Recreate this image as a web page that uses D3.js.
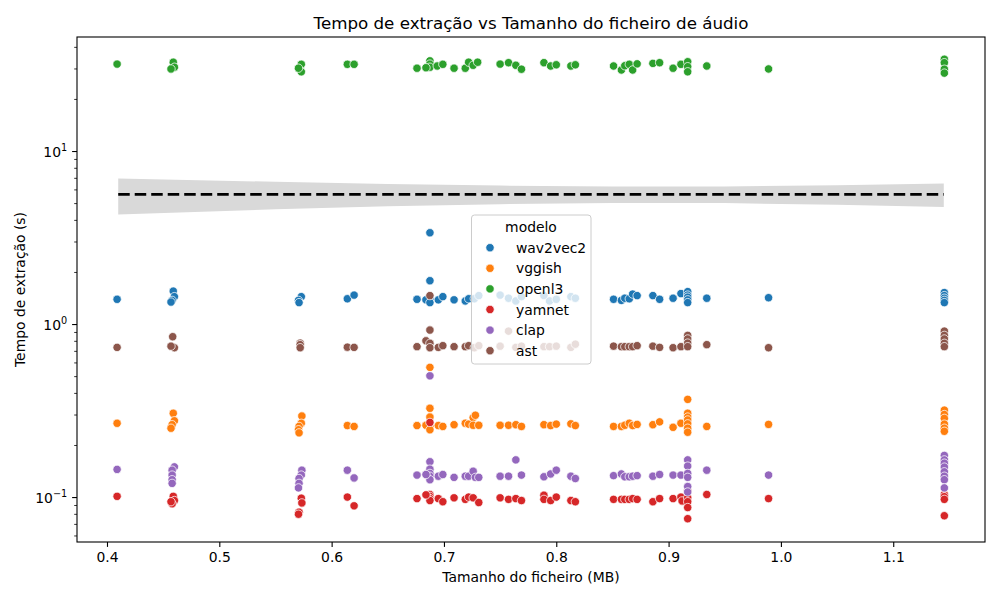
<!DOCTYPE html>
<html>
<head>
<meta charset="utf-8">
<script src="https://cdn.jsdelivr.net/npm/d3@7/dist/d3.min.js"></script>
<style>
	body { margin: 0; background: #fff; }
	text { font-family: "DejaVu Sans", sans-serif; fill: #000; }
</style>
</head>
<body>
<script>

	// models (hue) and their tab10 colours
	var models = ["wav2vec2", "vggish", "openl3", "yamnet", "clap", "ast"];
	var colors = ["#1f77b4", "#ff7f0e", "#2ca02c", "#d62728", "#9467bd", "#8c564b"];

	// [file size (MB), extraction time (s)]
	var wav2vec2 = [
		[0.409,1.39],[0.459,1.55],[0.460,1.44],[0.458,1.37],[0.457,1.34],
		[0.573,1.44],[0.5705,1.37],[0.571,1.33],
		[0.614,1.40],[0.620,1.47],[0.676,1.39],
		[0.6875,3.37],[0.6875,1.78],[0.6875,1.39],[0.684,1.38],[0.6875,1.33],
		[0.695,1.38],[0.699,1.44],[0.709,1.38],[0.719,1.36],[0.722,1.40],[0.727,1.40],[0.731,1.46],
		[0.750,1.47],[0.7575,1.41],[0.764,1.36],[0.769,1.44],
		[0.789,1.46],[0.794,1.36],[0.800,1.39],[0.813,1.44],[0.817,1.41],
		[0.851,1.39],[0.858,1.37],[0.861,1.41],[0.865,1.40],[0.868,1.49],[0.872,1.46],
		[0.886,1.46],[0.892,1.39],[0.904,1.41],[0.911,1.50],
		[0.917,1.54],[0.917,1.47],[0.917,1.43],[0.917,1.38],[0.917,1.33],
		[0.934,1.41],[0.989,1.42],
		[1.1455,1.52],[1.1455,1.46],[1.1455,1.41],[1.1455,1.37],[1.1455,1.33]
	];
	var vggish = [
		[0.409,0.267],[0.459,0.305],[0.460,0.276],[0.458,0.262],[0.457,0.25],
		[0.5735,0.294],[0.573,0.267],[0.571,0.256],[0.5705,0.245],[0.571,0.235],
		[0.614,0.259],[0.620,0.256],[0.676,0.259],
		[0.6875,0.562],[0.6875,0.326],[0.6875,0.29],[0.6875,0.256],[0.684,0.26],[0.6875,0.245],
		[0.695,0.259],[0.699,0.256],[0.709,0.262],[0.719,0.267],[0.722,0.264],[0.726,0.288],[0.728,0.297],[0.726,0.26],[0.731,0.26],
		[0.750,0.26],[0.7575,0.26],[0.764,0.262],[0.769,0.256],
		[0.789,0.262],[0.795,0.259],[0.800,0.264],[0.813,0.265],[0.817,0.259],
		[0.851,0.256],[0.858,0.256],[0.861,0.26],[0.865,0.267],[0.868,0.259],[0.872,0.263],
		[0.886,0.262],[0.892,0.272],[0.904,0.253],[0.911,0.267],
		[0.917,0.367],[0.917,0.305],[0.917,0.29],[0.917,0.279],[0.917,0.265],[0.917,0.25],[0.917,0.237],
		[0.934,0.256],[0.989,0.263],
		[1.1455,0.318],[1.1455,0.30],[1.1455,0.285],[1.1455,0.264],[1.1455,0.25],[1.1455,0.24]
	];
	var openl3 = [
		[0.409,31.8],[0.459,32.6],[0.460,30.5],[0.457,29.8],
		[0.573,31.7],[0.573,28.7],[0.5705,30.1],
		[0.614,31.7],[0.620,31.7],[0.676,30.1],
		[0.6875,33.2],[0.6875,31.8],[0.6875,30.5],[0.684,30.3],
		[0.694,31.0],[0.699,31.7],[0.709,30.1],[0.719,30.1],[0.722,32.6],[0.726,31.3],[0.730,32.6],
		[0.750,31.8],[0.7575,32.4],[0.764,31.3],[0.769,29.7],
		[0.789,32.4],[0.795,31.0],[0.800,31.5],[0.813,31.0],[0.817,31.5],
		[0.851,31.0],[0.858,29.4],[0.861,31.1],[0.865,31.7],[0.868,29.4],[0.872,31.9],
		[0.886,32.1],[0.892,32.4],[0.904,30.1],[0.911,31.7],
		[0.917,32.8],[0.917,30.7],[0.917,28.7],
		[0.934,31.0],[0.989,29.8],
		[1.1455,33.9],[1.1455,32.4],[1.1455,29.7],[1.1455,28.2]
	];
	var yamnet = [
		[0.409,0.101],[0.459,0.101],[0.460,0.0955],[0.458,0.0915],[0.457,0.094],
		[0.573,0.0985],[0.5735,0.0925],[0.571,0.0818],[0.5705,0.0796],
		[0.614,0.100],[0.620,0.089],[0.676,0.098],
		[0.6875,0.27],[0.6875,0.1035],[0.6875,0.101],[0.6875,0.098],[0.6875,0.0955],[0.684,0.103],
		[0.695,0.098],[0.699,0.094],[0.709,0.099],[0.719,0.097],[0.722,0.100],[0.726,0.099],[0.731,0.093],
		[0.750,0.099],[0.7575,0.097],[0.764,0.098],[0.769,0.0955],
		[0.789,0.1025],[0.789,0.097],[0.795,0.0955],[0.800,0.100],[0.813,0.0955],[0.817,0.094],
		[0.851,0.097],[0.858,0.097],[0.861,0.097],[0.865,0.097],[0.868,0.098],[0.872,0.097],
		[0.886,0.094],[0.892,0.098],[0.904,0.098],[0.911,0.100],[0.912,0.095],
		[0.917,0.1085],[0.917,0.099],[0.917,0.094],[0.917,0.087],[0.917,0.075],
		[0.934,0.1035],[0.989,0.098],
		[1.1455,0.1035],[1.1455,0.1005],[1.1455,0.097],[1.1455,0.078]
	];
	var clap = [
		[0.409,0.1445],[0.460,0.1495],[0.458,0.143],[0.458,0.134],[0.458,0.126],[0.458,0.120],
		[0.5735,0.143],[0.573,0.134],[0.571,0.128],[0.571,0.120],[0.5705,0.113],
		[0.614,0.143],[0.620,0.129],[0.676,0.134],
		[0.6875,0.502],[0.6875,0.16],[0.6875,0.145],[0.6875,0.137],[0.6875,0.132],[0.6875,0.126],[0.684,0.135],
		[0.695,0.132],[0.699,0.135],[0.709,0.130],[0.719,0.132],[0.722,0.132],[0.726,0.141],[0.728,0.13],[0.731,0.13],
		[0.750,0.132],[0.7575,0.132],[0.764,0.164],[0.769,0.134],
		[0.789,0.131],[0.795,0.136],[0.800,0.143],[0.813,0.132],[0.817,0.128],
		[0.851,0.133],[0.858,0.136],[0.861,0.131],[0.865,0.131],[0.868,0.132],[0.872,0.133],
		[0.886,0.132],[0.892,0.135],[0.904,0.134],[0.911,0.134],
		[0.917,0.164],[0.917,0.151],[0.917,0.137],[0.917,0.130],[0.917,0.115],[0.917,0.107],
		[0.934,0.143],[0.989,0.134],
		[1.1455,0.174],[1.1455,0.164],[1.1455,0.157],[1.1455,0.149],[1.1455,0.140],[1.1455,0.132],[1.1455,0.126],[1.1455,0.113]
	];
	var ast = [
		[0.409,0.733],[0.4585,0.845],[0.460,0.73],[0.457,0.745],
		[0.572,0.776],[0.572,0.76],[0.572,0.73],
		[0.614,0.735],[0.620,0.733],[0.676,0.74],
		[0.6875,1.46],[0.6875,0.923],[0.684,0.80],[0.6875,0.774],[0.6875,0.73],
		[0.695,0.733],[0.699,0.75],[0.709,0.74],[0.719,0.74],[0.722,0.75],[0.727,0.73],[0.731,0.75],
		[0.750,0.745],[0.7575,0.91],[0.764,0.733],[0.769,0.745],
		[0.789,0.74],[0.794,0.74],[0.800,0.745],[0.813,0.733],[0.817,0.765],
		[0.851,0.745],[0.858,0.74],[0.861,0.74],[0.865,0.74],[0.868,0.74],[0.872,0.75],
		[0.886,0.745],[0.892,0.733],[0.904,0.73],[0.911,0.74],
		[0.917,0.86],[0.917,0.82],[0.917,0.776],[0.917,0.74],
		[0.934,0.76],[0.989,0.73],
		[1.1455,0.91],[1.1455,0.86],[1.1455,0.82],[1.1455,0.774],[1.1455,0.74]
	];
	var series = [wav2vec2, vggish, openl3, yamnet, clap, ast];

	// regression line (dashed) and its confidence band
	var regX    = [0.41, 0.55, 0.65, 0.75, 0.85, 0.95, 1.05, 1.145];
	var regY    = [5.62, 5.62, 5.62, 5.62, 5.62, 5.62, 5.62, 5.62];
	var regLow  = [4.30, 4.60, 4.79, 4.93, 5.01, 5.00, 4.89, 4.74];
	var regHigh = [6.94, 6.64, 6.45, 6.31, 6.23, 6.24, 6.35, 6.50];

	// tick values
	var xTicks = [0.4, 0.5, 0.6, 0.7, 0.8, 0.9, 1.0, 1.1];
	var yTicks = [0.1, 1, 10];
	var yTickExp = ["\u22121", "0", "1"];

	function draw() {

		var W = 1000, H = 600;
		var mL = 77, mR = 985, mT = 37, mB = 542;

		var svg = d3.select("body").append("svg")
			.attr("width", W).attr("height", H);

		var x = d3.scaleLinear().domain([0.3733, 1.1817]).range([mL, mR]);
		var y = d3.scaleLog().domain([0.0550, 45.6]).range([mB, mT]);

		// confidence band
		var band = regX.map(function(d, i) { return [d, regLow[i], regHigh[i]]; });
		svg.append("path")
			.datum(band)
			.attr("fill", "#d9d9d9")
			.attr("d", d3.area()
				.x(function(d) { return x(d[0]); })
				.y0(function(d) { return y(d[1]); })
				.y1(function(d) { return y(d[2]); }));

		// regression line
		svg.append("path")
			.datum(regX.map(function(d, i) { return [d, regY[i]]; }))
			.attr("fill", "none")
			.attr("stroke", "#000")
			.attr("stroke-width", 2.8)
			.attr("stroke-dasharray", "11.5,5")
			.attr("d", d3.line()
				.x(function(d) { return x(d[0]); })
				.y(function(d) { return y(d[1]); }));

		// scatter points
		series.forEach(function(s, i) {
			svg.append("g").selectAll("circle")
				.data(s)
				.enter().append("circle")
				.attr("cx", function(d) { return x(d[0]); })
				.attr("cy", function(d) { return y(d[1]); })
				.attr("r", 4.2)
				.attr("fill", colors[i])
				.attr("stroke", "#fff")
				.attr("stroke-width", 0.75);
		});

		// x axis
		var gx = svg.append("g")
			.attr("transform", "translate(0," + mB + ")")
			.call(d3.axisBottom(x).tickValues(xTicks).tickSize(4.9)
				.tickFormat(d3.format(".1f")));
		gx.select(".domain").remove();
		gx.selectAll("line").attr("stroke-width", 1.1);
		gx.selectAll("text")
			.attr("font-size", 13.9)
			.attr("font-family", "DejaVu Sans")
			.attr("dy", null)
			.attr("y", 19.5);

		// y axis minor ticks
		var minor = y.ticks().filter(function(v) {
			return Math.abs(Math.log10(v) - Math.round(Math.log10(v))) > 1e-6;
		});
		var gm = svg.append("g")
			.attr("transform", "translate(" + mL + ",0)")
			.call(d3.axisLeft(y).tickValues(minor).tickSize(2.8).tickFormat(""));
		gm.select(".domain").remove();
		gm.selectAll("line").attr("stroke-width", 0.8);

		// y axis major ticks with 10^n labels
		var gy = svg.append("g")
			.attr("transform", "translate(" + mL + ",0)")
			.call(d3.axisLeft(y).tickValues(yTicks).tickSize(4.9).tickFormat(""));
		gy.select(".domain").remove();
		gy.selectAll("line").attr("stroke-width", 1.1);
		gy.selectAll(".tick text").remove();
		gy.selectAll(".tick").each(function(d, i) {
			var t = d3.select(this).append("text")
				.attr("x", -9.8)
				.attr("y", 5)
				.attr("text-anchor", "end")
				.attr("font-size", 13.9);
			t.append("tspan").text("10");
			t.append("tspan")
				.attr("font-size", 9.7)
				.attr("dy", -6)
				.text(yTickExp[i]);
		});

		// frame
		svg.append("rect")
			.attr("x", mL).attr("y", mT)
			.attr("width", mR - mL).attr("height", mB - mT)
			.attr("fill", "none").attr("stroke", "#000").attr("stroke-width", 1.1);

		// titles
		svg.append("text")
			.attr("x", (mL + mR) / 2).attr("y", 29)
			.attr("text-anchor", "middle").attr("font-size", 16.7)
			.text("Tempo de extração vs Tamanho do ficheiro de áudio");
		svg.append("text")
			.attr("x", (mL + mR) / 2).attr("y", 582)
			.attr("text-anchor", "middle").attr("font-size", 13.9)
			.text("Tamanho do ficheiro (MB)");
		svg.append("text")
			.attr("transform", "translate(25," + (mT + mB) / 2 + ") rotate(-90)")
			.attr("text-anchor", "middle").attr("font-size", 13.9)
			.text("Tempo de extração (s)");

		// legend
		var lg = svg.append("g").attr("transform", "translate(471.5,215)");
		lg.append("rect")
			.attr("width", 119.5).attr("height", 149)
			.attr("rx", 3).attr("ry", 3)
			.attr("fill", "#fff").attr("fill-opacity", 0.8)
			.attr("stroke", "#cccccc").attr("stroke-width", 1);
		lg.append("text")
			.attr("x", 59.5).attr("y", 16.5)
			.attr("text-anchor", "middle").attr("font-size", 13.9)
			.text("modelo");
		var items = lg.selectAll(".item")
			.data(models)
			.enter().append("g")
			.attr("transform", function(d, i) { return "translate(0," + (32.7 + i * 20.6) + ")"; });
		items.append("circle")
			.attr("cx", 18.5).attr("cy", 0).attr("r", 4.2)
			.attr("fill", function(d, i) { return colors[i]; })
			.attr("stroke", "#fff").attr("stroke-width", 0.75);
		items.append("text")
			.attr("x", 44.5).attr("y", 5)
			.attr("font-size", 13.9)
			.text(function(d) { return d; });
	}

	draw();

</script>
</body>
</html>
